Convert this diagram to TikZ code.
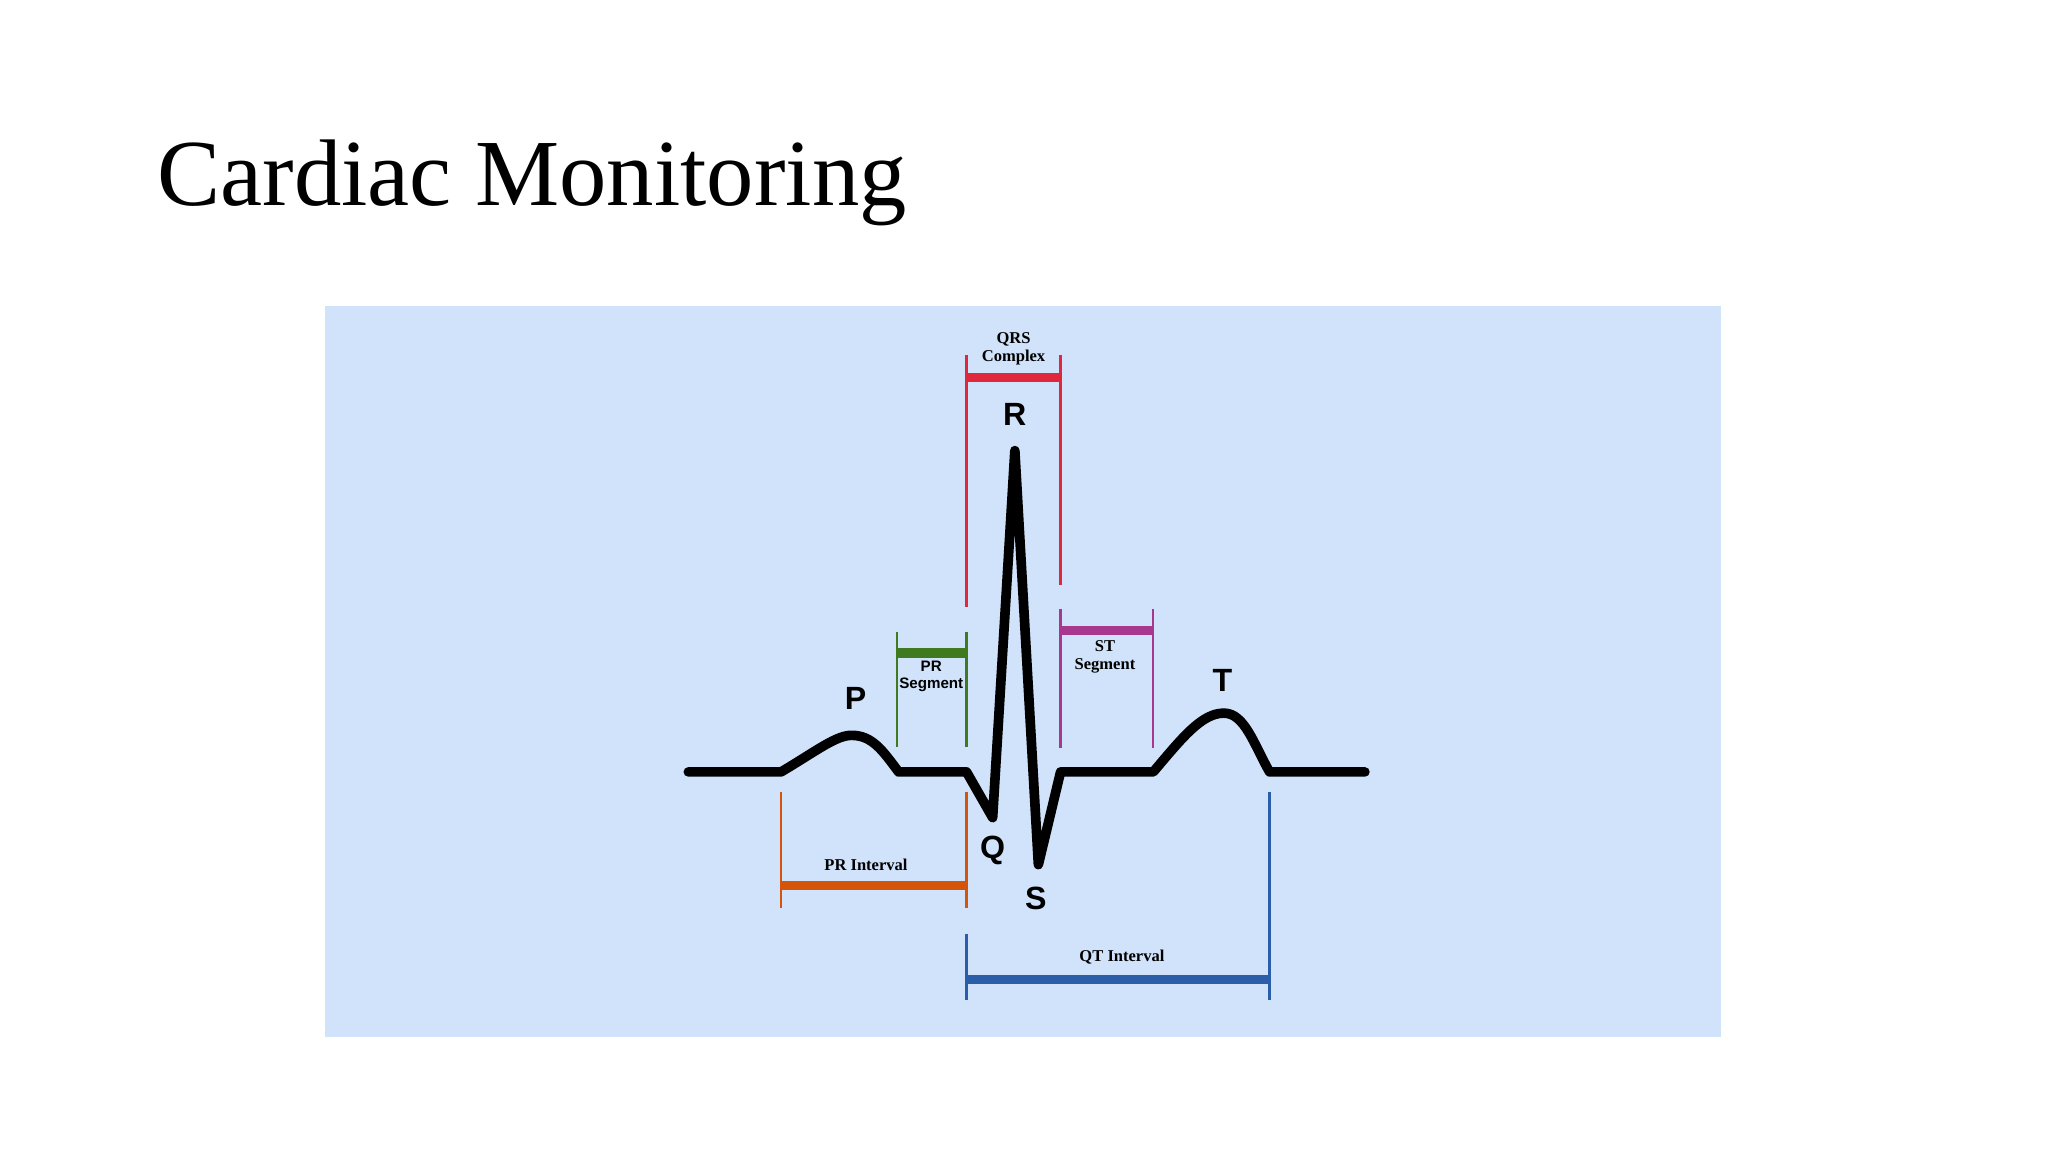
\documentclass[tikz,border=0pt]{standalone}
\usepackage{fontspec}
\setmainfont{Liberation Serif}
\newfontfamily\lsans{Liberation Sans}
\begin{document}
\begin{tikzpicture}[x=0.01cm,y=-0.01cm,
  thin line/.style={line width=0.5pt},
  bar/.style={line width=2pt},
  lbl/.style={font=\bfseries\fontsize{3.6}{4}\selectfont, inner sep=0pt, align=center},
  wave/.style={font=\lsans\bfseries\fontsize{7}{8}\selectfont, inner sep=0pt},
  ecg/.style={line width=2.1pt, line join=round, line cap=round}]
\definecolor{bg}{HTML}{D0E3FA}
\definecolor{qrsc}{HTML}{E0283C}
\definecolor{prs}{HTML}{3F7A1E}
\definecolor{stc}{HTML}{A8388E}
\definecolor{pri}{HTML}{D4540A}
\definecolor{qti}{HTML}{2A5EA8}
\useasboundingbox (0,0) rectangle (1568,882);
\fill[white] (0,0) rectangle (1568,882);
\fill[bg] (249,234) rectangle (1318,794);
\node[anchor=base west, inner sep=0pt, font=\fontsize{20.6}{24}\selectfont] (title) at (120,157) {Cardiac Monitoring};
% QRS
\coordinate (q1) at (740,272); \coordinate (q1b) at (740,465);
\coordinate (q2) at (812,272); \coordinate (q2b) at (812,448);
\draw[qrsc, thin line] (q1) -- (q1b) (q2) -- (q2b);
\draw[qrsc, bar] (740,289) -- (812,289);
\node[lbl] (qrs) at (776,267) {QRS\\Complex};
% PR segment
\draw[prs, thin line] (687,484) -- (687,572) (740,484) -- (740,572);
\draw[prs, bar] (687,500) -- (740,500);
\node[lbl, font=\lsans\bfseries\fontsize{3.3}{3.6}\selectfont] (prseg) at (713,518) {PR\\Segment};
% ST segment
\draw[stc, thin line] (812,466) -- (812,573) (883,466) -- (883,573);
\draw[stc, bar] (812,483) -- (883,483);
\node[lbl] (stseg) at (846,503) {ST\\Segment};
% PR interval
\draw[pri, thin line] (598,606) -- (598,695) (740,606) -- (740,695);
\draw[pri, bar] (598,678) -- (740,678);
\node[lbl] (print) at (663,662) {PR Interval};
% QT interval
\draw[qti, thin line] (740,715) -- (740,766) (972,606) -- (972,766);
\draw[qti, bar] (740,750) -- (972,750);
\node[lbl] (qtint) at (859,733) {QT Interval};
% ECG
\draw[ecg] (527,591) -- (598,591) .. controls (625,575) and (640,563) .. (652,563)
  .. controls (668,563) and (676,575) .. (688,591) -- (740,591) -- (760,626)
  -- (777,345) -- (795,662) -- (812,591) -- (883,591)
  .. controls (905,565) and (920,546) .. (937,546)
  .. controls (953,546) and (960,570) .. (972,591) -- (1045,591);
\node[wave] (P) at (655,535) {P};
\node[wave] (R) at (777,317) {R};
\node[wave] (T) at (936,521) {T};
\node[wave] (Q) at (760,651) {Q};
\node[wave] (S) at (793,688) {S};
\end{tikzpicture}
\end{document}
